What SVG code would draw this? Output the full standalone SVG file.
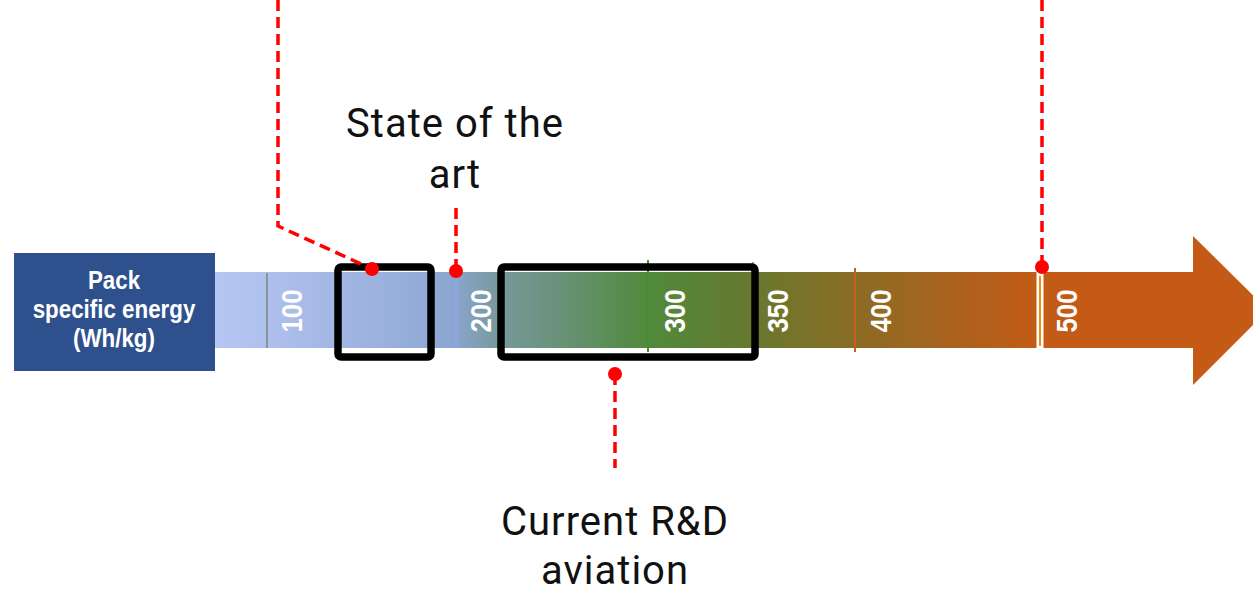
<svg xmlns="http://www.w3.org/2000/svg" width="1253" height="590" viewBox="0 0 1253 590">
  <defs>
    <linearGradient id="energyGrad" gradientUnits="userSpaceOnUse" x1="214" y1="0" x2="1193" y2="0">
      <stop offset="0" stop-color="#b6c7f3"/>
      <stop offset="0.09" stop-color="#a9bbe8"/>
      <stop offset="0.17" stop-color="#9bb1de"/>
      <stop offset="0.245" stop-color="#8ba6d0"/>
      <stop offset="0.29" stop-color="#76999c"/>
      <stop offset="0.35" stop-color="#6a927a"/>
      <stop offset="0.443" stop-color="#508a3c"/>
      <stop offset="0.535" stop-color="#637a30"/>
      <stop offset="0.655" stop-color="#8a6c25"/>
      <stop offset="0.75" stop-color="#aa631f"/>
      <stop offset="0.845" stop-color="#c35a16"/>
      <stop offset="1" stop-color="#c55a14"/>
    </linearGradient>
    <filter id="soft" x="-2%" y="-10%" width="104%" height="120%">
      <feGaussianBlur stdDeviation="0.7"/>
    </filter>
  </defs>
  <style>
    .axis-label { font-family: "Liberation Sans", Arial, sans-serif; font-weight: bold; font-size: 30px; fill: #ffffff; text-anchor: middle; }
    .title { font-family: "Liberation Sans", Arial, sans-serif; font-weight: bold; font-size: 26px; fill: #ffffff; text-anchor: middle; }
    .note { font-family: Roboto, "Noto Sans", sans-serif; font-size: 40px; letter-spacing: 1px; fill: #111111; text-anchor: middle; }
    .lead { fill: none; stroke: #ff0000; stroke-width: 3.5; stroke-dasharray: 11 6; }
    .dot { fill: #ff0000; }
    .frame { fill: none; stroke: #000000; stroke-width: 7.5; stroke-linejoin: round; }
  </style>

  <!-- scale bar with arrow head -->
  <g id="scale-bar">
    <g filter="url(#soft)">
      <path d="M214,272 H1193 V236 L1268,310 L1193,385 V348 H214 Z" fill="url(#energyGrad)"/>
      <rect x="14" y="253" width="201" height="118" fill="#2f518d"/>
      <line x1="267" y1="273" x2="267" y2="348" stroke="#8d929c" stroke-width="2"/>
      <line x1="456" y1="272" x2="456" y2="348" stroke="#93a3e6" stroke-width="2"/>
      <line x1="648" y1="260" x2="648" y2="352" stroke="#4a8a30" stroke-width="2"/>
      <line x1="753" y1="262" x2="753" y2="350" stroke="#c06a3a" stroke-width="1.5"/>
      <line x1="855" y1="268" x2="855" y2="352" stroke="#c55f1b" stroke-width="2"/>
      <rect x="1036.5" y="270" width="7" height="80" fill="#ffffff"/>
      <line x1="1040" y1="276" x2="1040" y2="346" stroke="#f28a0c" stroke-width="2"/>
    </g>
    <!-- condensed title lines -->
    <g transform="translate(114,0) scale(0.86,1)">
      <text class="title" x="0" y="289">Pack</text>
      <text class="title" x="0" y="318">specific energy</text>
      <text class="title" x="0" y="347">(Wh/kg)</text>
    </g>
    <text class="axis-label" transform="translate(302,311) rotate(-90) scale(0.86,1)">100</text>
    <text class="axis-label" transform="translate(491,311) rotate(-90) scale(0.86,1)">200</text>
    <text class="axis-label" transform="translate(685,311) rotate(-90) scale(0.86,1)">300</text>
    <text class="axis-label" transform="translate(788,311) rotate(-90) scale(0.86,1)">350</text>
    <text class="axis-label" transform="translate(891,311) rotate(-90) scale(0.86,1)">400</text>
    <text class="axis-label" transform="translate(1077,311) rotate(-90) scale(0.86,1)">500</text>
  </g>

  <!-- highlighted ranges -->
  <g id="range-today">
    <rect class="frame" x="338" y="267" width="93" height="90" rx="3"/>
  </g>
  <g id="range-rnd">
    <rect class="frame" x="501" y="267" width="254" height="90" rx="3"/>
  </g>

  <!-- annotations -->
  <g id="label-state-of-art">
    <text class="note" x="455" y="137">State of the</text>
    <text class="note" x="455" y="188">art</text>
  </g>
  <g id="label-current-rnd">
    <text class="note" x="615" y="535">Current R&amp;D</text>
    <text class="note" x="615" y="584">aviation</text>
  </g>

  <!-- leader lines -->
  <g id="connectors">
    <path class="lead" d="M278,0 V226 L372,269"/>
    <circle class="dot" cx="372" cy="269" r="7"/>
    <path class="lead" d="M456,208 V271"/>
    <circle class="dot" cx="456" cy="271" r="7"/>
    <path class="lead" d="M615,374 V468"/>
    <circle class="dot" cx="615" cy="374" r="7"/>
    <path class="lead" d="M1042,0 V267"/>
    <circle class="dot" cx="1042" cy="267" r="7"/>
  </g>
</svg>
